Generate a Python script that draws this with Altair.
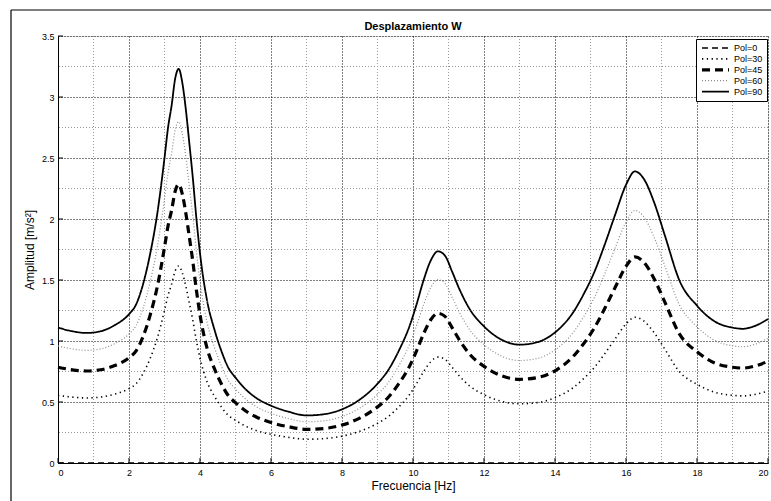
import altair as alt
import pandas as pd

# Frequency axis [Hz] and response amplitude for each polarization angle
freq = [0.0, 0.4, 0.8, 1.2, 1.6, 2.0, 2.2, 2.4, 2.6, 2.8,
        3.0, 3.1, 3.2, 3.3, 3.4, 3.5, 3.6, 3.7, 3.8, 3.9,
        4.0, 4.2, 4.4, 4.6, 4.8, 5.0, 5.3, 5.6, 6.0, 6.5,
        7.0, 7.5, 8.0, 8.5, 9.0, 9.3, 9.6, 9.9, 10.1, 10.3,
        10.5, 10.7, 10.9, 11.1, 11.3, 11.6, 12.0, 12.5, 13.0, 13.5,
        14.0, 14.5, 14.8, 15.1, 15.4, 15.7, 16.0, 16.25, 16.5, 16.8,
        17.1, 17.5, 18.0, 18.5, 19.0, 19.3, 19.6, 20.0]

pol_0 = [0.0] * 68

pol_30 = [0.555, 0.54, 0.533, 0.54, 0.565, 0.61, 0.65, 0.735, 0.86, 1.025,
          1.25, 1.375, 1.465, 1.575, 1.615, 1.56, 1.45, 1.31, 1.165, 1.0,
          0.86, 0.665, 0.55, 0.46, 0.39, 0.35, 0.30, 0.265, 0.235, 0.21,
          0.195, 0.20, 0.22, 0.26, 0.325, 0.38, 0.46, 0.56, 0.65, 0.75,
          0.83, 0.868, 0.85, 0.785, 0.715, 0.63, 0.56, 0.505, 0.485, 0.495,
          0.535, 0.615, 0.69, 0.78, 0.895, 1.02, 1.14, 1.195, 1.165, 1.065,
          0.93, 0.75, 0.645, 0.58, 0.555, 0.55, 0.56, 0.59]

pol_45 = [0.785, 0.764, 0.754, 0.764, 0.799, 0.863, 0.919, 1.039, 1.216, 1.449,
          1.768, 1.944, 2.072, 2.227, 2.284, 2.206, 2.05, 1.852, 1.647, 1.414,
          1.216, 0.94, 0.778, 0.65, 0.551, 0.495, 0.424, 0.375, 0.332, 0.297,
          0.276, 0.283, 0.311, 0.368, 0.46, 0.537, 0.65, 0.792, 0.919, 1.06,
          1.174, 1.227, 1.202, 1.11, 1.011, 0.891, 0.792, 0.714, 0.686, 0.70,
          0.756, 0.87, 0.976, 1.103, 1.266, 1.442, 1.612, 1.69, 1.647, 1.506,
          1.315, 1.06, 0.912, 0.82, 0.785, 0.778, 0.792, 0.834]

pol_60 = [0.96, 0.935, 0.923, 0.935, 0.979, 1.057, 1.126, 1.273, 1.49, 1.775,
          2.165, 2.38, 2.537, 2.728, 2.797, 2.702, 2.511, 2.269, 2.018, 1.732,
          1.49, 1.152, 0.953, 0.797, 0.675, 0.606, 0.52, 0.459, 0.407, 0.364,
          0.338, 0.346, 0.381, 0.45, 0.563, 0.658, 0.797, 0.97, 1.126, 1.299,
          1.438, 1.503, 1.472, 1.36, 1.238, 1.091, 0.97, 0.875, 0.84, 0.857,
          0.927, 1.065, 1.195, 1.351, 1.55, 1.767, 1.974, 2.07, 2.018, 1.845,
          1.611, 1.299, 1.117, 1.005, 0.961, 0.953, 0.97, 1.022]

pol_90 = [1.11, 1.08, 1.066, 1.08, 1.13, 1.22, 1.30, 1.47, 1.72, 2.05,
          2.50, 2.75, 2.93, 3.15, 3.23, 3.12, 2.90, 2.62, 2.33, 2.0,
          1.72, 1.33, 1.10, 0.92, 0.78, 0.70, 0.60, 0.53, 0.47, 0.42,
          0.39, 0.40, 0.44, 0.52, 0.65, 0.76, 0.92, 1.12, 1.30, 1.50,
          1.66, 1.735, 1.70, 1.57, 1.43, 1.26, 1.12, 1.01, 0.97, 0.99,
          1.07, 1.23, 1.38, 1.56, 1.79, 2.04, 2.28, 2.39, 2.33, 2.13,
          1.86, 1.50, 1.29, 1.16, 1.11, 1.10, 1.12, 1.18]

series_names = ["Pol=0", "Pol=30", "Pol=45", "Pol=60", "Pol=90"]
series_values = [pol_0, pol_30, pol_45, pol_60, pol_90]

x_major = [0, 2, 4, 6, 8, 10, 12, 14, 16, 18, 20]
x_minor = [1, 3, 5, 7, 9, 11, 13, 15, 17, 19]
y_major = [0, 0.5, 1, 1.5, 2, 2.5, 3, 3.5]
y_minor = [0.25, 0.75, 1.25, 1.75, 2.25, 2.75, 3.25]

chart_title = ["Desplazamiento W"]

rows = []
for name, vals in zip(series_names, series_values):
    for f, a in zip(freq, vals):
        rows.append({"f": f, "A": a, "serie": name})
df = pd.DataFrame(rows)

W, H = 710, 427
FONT = "Liberation Sans"

x_scale = alt.Scale(domain=[0, 20], nice=False, zero=False)
y_scale = alt.Scale(domain=[0, 3.5], nice=False, zero=False)

x_axis = alt.Axis(values=x_major, title="Frecuencia [Hz]", grid=True,
                  gridColor="black", gridDash=[1, 2], gridWidth=1,
                  domainColor="black", domainWidth=1, ticks=False,
                  labelFontSize=9, labelPadding=5, labelColor="black",
                  labelFont=FONT, labelExpr="'' + datum.value",
                  titleFont=FONT, titleFontSize=12, titleFontWeight="normal",
                  titleColor="black", titlePadding=3)
y_axis = alt.Axis(values=y_major, title="Amplitud [m/s²]", grid=True,
                  gridColor="black", gridDash=[1, 2], gridWidth=1,
                  domainColor="black", domainWidth=1, ticks=False,
                  labelFontSize=9, labelPadding=4, labelColor="black",
                  labelFont=FONT, labelExpr="'' + datum.value",
                  titleFont=FONT, titleFontSize=12, titleFontWeight="normal",
                  titleColor="black", titleX=-22, titleY=H / 2)

legend = alt.Legend(title=None, orient="none", legendX=638, legendY=3,
                    symbolType="stroke", symbolSize=729, clipHeight=10,
                    rowPadding=0.9, labelFontSize=9, labelFont=FONT,
                    labelColor="black", labelOffset=3, padding=4,
                    fillColor="white", strokeColor="black", cornerRadius=0)

# Minor grid (grey dotted)
minor_x = alt.Chart(pd.DataFrame({"f": x_minor})).mark_rule(
    color="#9a9a9a", strokeDash=[1, 2], strokeWidth=1
).encode(x=alt.X("f:Q", scale=x_scale, axis=x_axis))

minor_y = alt.Chart(pd.DataFrame({"A": y_minor})).mark_rule(
    color="#9a9a9a", strokeDash=[1, 2], strokeWidth=1
).encode(y=alt.Y("A:Q", scale=y_scale, axis=y_axis))

# Response curves
lines = alt.Chart(df).mark_line(interpolate="monotone").encode(
    x=alt.X("f:Q", scale=x_scale, axis=x_axis),
    y=alt.Y("A:Q", scale=y_scale, axis=y_axis),
    color=alt.Color("serie:N", legend=legend,
                    scale=alt.Scale(domain=series_names,
                                    range=["black", "black", "black", "#8c8c8c", "black"])),
    strokeDash=alt.StrokeDash("serie:N", legend=legend,
                              scale=alt.Scale(domain=series_names,
                                              range=[[6, 4], [1.3, 3.5], [8, 5], [1, 2], [1, 0]])),
    strokeWidth=alt.StrokeWidth("serie:N", legend=legend,
                                scale=alt.Scale(type="ordinal", domain=series_names,
                                                range=[1.6, 1.6, 3.2, 1.2, 1.8])),
    detail="serie:N",
)

# Inward tick marks on the bottom and left axes
ticks_x = alt.Chart(pd.DataFrame({"f": x_major})).mark_rule(
    color="black", strokeWidth=1
).encode(x=alt.X("f:Q", scale=x_scale, axis=x_axis),
         y=alt.value(H), y2=alt.value(H - 5))

ticks_y = alt.Chart(pd.DataFrame({"A": y_major})).mark_rule(
    color="black", strokeWidth=1
).encode(y=alt.Y("A:Q", scale=y_scale, axis=y_axis),
         x=alt.value(0), x2=alt.value(5))

# Figure frame on the left and top edges
frame_left = alt.Chart(pd.DataFrame({"k": [0]})).mark_rule(
    color="black", strokeWidth=1.2
).encode(x=alt.value(-47), y=alt.value(-26), y2=alt.value(H + 40))

frame_top = alt.Chart(pd.DataFrame({"k": [0]})).mark_rule(
    color="black", strokeWidth=1.2
).encode(x=alt.value(-47), x2=alt.value(W + 10), y=alt.value(-26))

# Chart title, centred over the plot area
title = alt.Chart(pd.DataFrame({"t": chart_title})).mark_text(
    font=FONT, fontSize=11, fontWeight="bold", color="black",
    align="center", baseline="middle"
).encode(text="t:N", x=alt.value(W / 2), y=alt.value(-9))

chart = alt.layer(
    minor_x, minor_y, lines, ticks_x, ticks_y, frame_left, frame_top, title
).properties(
    width=W, height=H,
    autosize=alt.AutoSizeParams(type="none"),
    padding={"left": 58, "top": 36, "right": 3, "bottom": 38},
).configure_view(stroke=None).configure(background="white")

chart.save("out.html", embed_options={"renderer": "svg", "actions": False})
